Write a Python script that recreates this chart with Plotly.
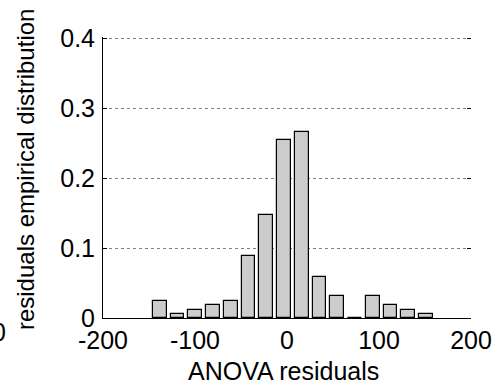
import plotly.graph_objects as go

bin_centers = [-138.3, -119.0, -99.7, -80.4, -61.1, -41.8, -22.5, -3.2,
               16.1, 35.4, 54.7, 74.0, 93.3, 112.6, 131.9, 151.2]
frequencies = [0.024, 0.006, 0.012, 0.018, 0.024, 0.089, 0.147, 0.255,
               0.266, 0.059, 0.032, 0.0, 0.032, 0.018, 0.012, 0.006]
x_ticks = [-200, -100, 0, 100, 200]
y_ticks = [0, 0.1, 0.2, 0.3, 0.4]
y_tick_labels = ["0", "0.1", "0.2", "0.3", "0.4"]
x_title = "ANOVA residuals"
y_title = "residuals empirical distribution"

FONT = "Liberation Sans, Arial, sans-serif"
FS = 25

fig = go.Figure()
fig.add_trace(go.Bar(
    x=bin_centers, y=frequencies, width=15,
    marker=dict(color="#cccccc", line=dict(color="black", width=1.2)),
    showlegend=False, hoverinfo="skip",
))
fig.add_trace(go.Scatter(x=[0], y=[0], yaxis="y2", mode="markers",
                         marker=dict(opacity=0), showlegend=False, hoverinfo="skip"))

fig.update_layout(
    width=504, height=390, autosize=False,
    margin=dict(l=103, r=27, t=37, b=72),
    paper_bgcolor="white", plot_bgcolor="white",
    font=dict(family=FONT, size=FS, color="black"),
    bargap=0,
    xaxis=dict(
        range=[-200, 200], tickvals=x_ticks, ticktext=[str(v) for v in x_ticks],
        showgrid=False, zeroline=False, showline=True, linecolor="black", linewidth=1,
        ticks="", tickfont=dict(size=FS), ticklabelstandoff=0,
    ),
    yaxis=dict(
        range=[0, 0.4015], tickvals=y_ticks, ticktext=y_tick_labels,
        showgrid=True, gridcolor="#808080", griddash="dot", gridwidth=1,
        zeroline=False, showline=True, linecolor="black", linewidth=1,
        ticks="inside", ticklen=4, tickcolor="black", tickfont=dict(size=FS),
        ticklabelstandoff=2,
    ),
    yaxis2=dict(
        range=[0, 0.4015], tickvals=y_ticks, overlaying="y", side="right", anchor="x",
        showgrid=False, zeroline=False, showline=False, showticklabels=False,
        ticks="inside", ticklen=4, tickcolor="black", tickwidth=1,
    ),
    annotations=[
        dict(text=x_title, xref="paper", yref="paper", x=0.49, y=-0.19,
             xanchor="center", yanchor="middle", showarrow=False,
             font=dict(size=FS)),
        dict(text=y_title, xref="paper", yref="paper", x=-0.212, y=0.53,
             xanchor="center", yanchor="middle", showarrow=False, textangle=-90,
             font=dict(size=24)),
        dict(text="0", xref="paper", yref="paper", x=-0.258, y=-0.05,
             xanchor="right", yanchor="middle", showarrow=False,
             font=dict(size=FS)),
    ],
)

fig.write_html("out.html")
